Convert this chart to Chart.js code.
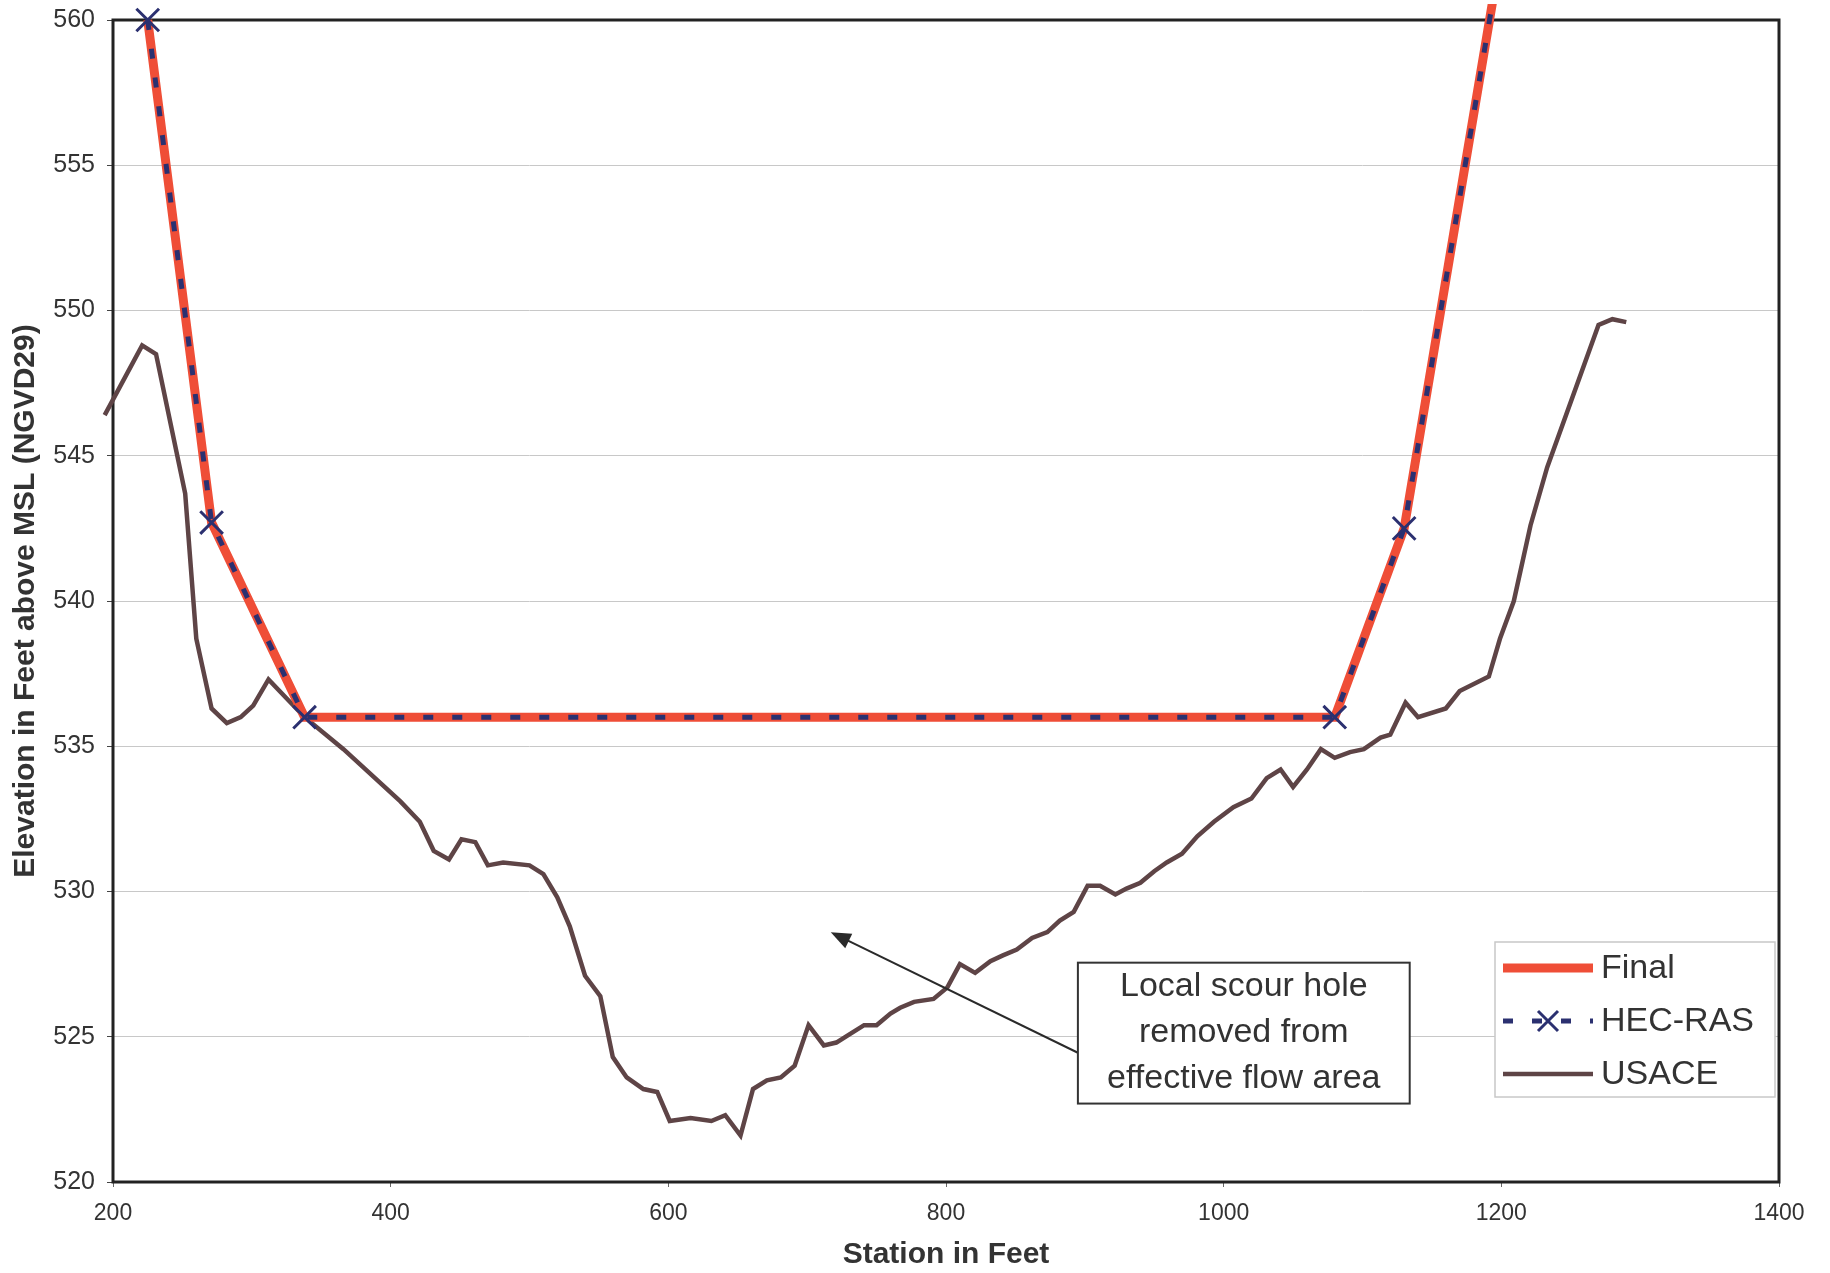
<!DOCTYPE html>
<html>
<head>
<meta charset="utf-8">
<title>Station vs Elevation</title>
<script src="https://cdn.jsdelivr.net/npm/chart.js@4.4.1/dist/chart.umd.min.js"></script>
<style>
  html, body { margin: 0; padding: 0; background: #fff; }
  canvas { display: block; }
</style>
</head>
<body>
<canvas id="chart" width="1830" height="1273"></canvas>
<script>
// station (ft) / elevation (ft, NGVD29)
const finalStation = [225, 271, 338, 1080, 1130, 1195];
const finalElev = [560, 542.7, 536.0, 536.0, 542.5, 561.0];

const hecStation = [225, 271, 338, 1080, 1130, 1195];
const hecElev = [560, 542.7, 536.0, 536.0, 542.5, 561.0];

const usaceStation = [194, 221, 231, 252, 260, 271, 282, 292, 301, 312, 338, 366, 407, 421, 431, 442, 451, 461, 470, 481,
  500, 510, 520, 529, 540, 551, 560, 570, 582, 592, 601, 616, 631, 641, 652, 661, 671, 681, 691, 701,
  712, 721, 731, 741, 750, 760, 767, 777, 791, 801, 810, 821, 832, 841, 851, 862, 873, 882, 892, 902,
  911, 922, 930, 940, 950, 959, 970, 981, 993, 1007, 1020, 1031, 1041, 1050, 1060, 1070, 1080, 1091, 1101, 1113,
  1120, 1131, 1140, 1160, 1170, 1191, 1199, 1209, 1221, 1233, 1270, 1280, 1290];
const usaceElev = [546.4, 548.8, 548.5, 543.7, 538.7, 536.3, 535.8, 536.0, 536.4, 537.3, 536.0, 534.9, 533.1, 532.4, 531.4, 531.1, 531.8, 531.7, 530.9, 531.0,
  530.9, 530.6, 529.8, 528.8, 527.1, 526.4, 524.3, 523.6, 523.2, 523.1, 522.1, 522.2, 522.1, 522.3, 521.6, 523.2, 523.5, 523.6, 524.0, 525.4,
  524.7, 524.8, 525.1, 525.4, 525.4, 525.8, 526.0, 526.2, 526.3, 526.7, 527.5, 527.2, 527.6, 527.8, 528.0, 528.4, 528.6, 529.0, 529.3, 530.2,
  530.2, 529.9, 530.1, 530.3, 530.7, 531.0, 531.3, 531.9, 532.4, 532.9, 533.2, 533.9, 534.2, 533.6, 534.2, 534.9, 534.6, 534.8, 534.9, 535.3,
  535.4, 536.5, 536.0, 536.3, 536.9, 537.4, 538.7, 540.0, 542.6, 544.6, 549.5, 549.7, 549.6];

const xMin = 200, xMax = 1400, xStep = 200;
const yMin = 520, yMax = 560, yStep = 5;

// callout, in data units
const noteLines = ['Local scour hole', 'removed from', 'effective flow area'];
const noteBox = {x1: 895, x2: 1134, y1: 527.55, y2: 522.7};
const noteArrow = {fromX: 895, fromY: 524.45, toX: 717, toY: 528.6};

const FONT = '"Liberation Sans", Arial, sans-serif';

const pts = (xs, ys) => xs.map((x, i) => ({x: x, y: ys[i]}));

function drawX(ctx, x, y, r) {
  ctx.beginPath();
  ctx.moveTo(x - r, y - r); ctx.lineTo(x + r, y + r);
  ctx.moveTo(x - r, y + r); ctx.lineTo(x + r, y - r);
  ctx.stroke();
}

const framePlugin = {
  id: 'frame',
  beforeDatasetsDraw(chart) {
    const {ctx, chartArea: a} = chart;
    ctx.save();
    ctx.strokeStyle = '#222';
    ctx.lineWidth = 3;
    ctx.strokeRect(a.left, a.top, a.right - a.left, a.bottom - a.top);
    ctx.restore();
  }
};

const notePlugin = {
  id: 'note',
  afterDatasetsDraw(chart) {
    const {ctx} = chart;
    const xs = chart.scales.x, ys = chart.scales.y;
    ctx.save();
    // arrow
    const fx = xs.getPixelForValue(noteArrow.fromX), fy = ys.getPixelForValue(noteArrow.fromY);
    const tx = xs.getPixelForValue(noteArrow.toX), ty = ys.getPixelForValue(noteArrow.toY);
    const ang = Math.atan2(ty - fy, tx - fx);
    ctx.strokeStyle = '#2a2a2a';
    ctx.fillStyle = '#2a2a2a';
    ctx.lineWidth = 2;
    ctx.beginPath();
    ctx.moveTo(fx, fy);
    ctx.lineTo(tx - 14 * Math.cos(ang), ty - 14 * Math.sin(ang));
    ctx.stroke();
    ctx.beginPath();
    ctx.moveTo(tx, ty);
    ctx.lineTo(tx - 20 * Math.cos(ang) + 8 * Math.sin(ang), ty - 20 * Math.sin(ang) - 8 * Math.cos(ang));
    ctx.lineTo(tx - 20 * Math.cos(ang) - 8 * Math.sin(ang), ty - 20 * Math.sin(ang) + 8 * Math.cos(ang));
    ctx.closePath();
    ctx.fill();
    // box
    const bx1 = xs.getPixelForValue(noteBox.x1), bx2 = xs.getPixelForValue(noteBox.x2);
    const by1 = ys.getPixelForValue(noteBox.y1), by2 = ys.getPixelForValue(noteBox.y2);
    ctx.fillStyle = '#fff';
    ctx.fillRect(bx1, by1, bx2 - bx1, by2 - by1);
    ctx.strokeStyle = '#333';
    ctx.lineWidth = 2;
    ctx.strokeRect(bx1, by1, bx2 - bx1, by2 - by1);
    ctx.fillStyle = '#333';
    ctx.font = '34px ' + FONT;
    ctx.textAlign = 'center';
    ctx.textBaseline = 'middle';
    const cx = (bx1 + bx2) / 2;
    const lh = 46;
    const cy = (by1 + by2) / 2;
    noteLines.forEach((t, i) => ctx.fillText(t, cx, cy + (i - 1) * lh));
    ctx.restore();
  }
};

const legendPlugin = {
  id: 'boxLegend',
  afterDatasetsDraw(chart) {
    const {ctx, chartArea: a} = chart;
    const w = 280, h = 155;
    const left = a.right - 4 - w, top = a.bottom - 240;
    ctx.save();
    ctx.fillStyle = '#fff';
    ctx.fillRect(left, top, w, h);
    ctx.strokeStyle = '#c8c8c8';
    ctx.lineWidth = 1.5;
    ctx.strokeRect(left, top, w, h);
    ctx.font = '34px ' + FONT;
    ctx.textBaseline = 'middle';
    ctx.textAlign = 'left';
    chart.data.datasets.forEach((ds, i) => {
      const y = top + 26 + i * 53;
      const x1 = left + 8, x2 = left + 98;
      ctx.strokeStyle = ds.borderColor;
      ctx.lineWidth = ds.borderWidth;
      ctx.setLineDash(ds.borderDash || []);
      ctx.lineCap = 'butt';
      ctx.beginPath();
      ctx.moveTo(x1, y); ctx.lineTo(x2, y);
      ctx.stroke();
      ctx.setLineDash([]);
      if (ds.pointStyle === 'crossRot') {
        ctx.lineWidth = ds.pointBorderWidth;
        ctx.strokeStyle = ds.pointBorderColor;
        drawX(ctx, (x1 + x2) / 2, y, 10);
      }
      ctx.fillStyle = '#333';
      ctx.fillText(ds.label, left + 106, y + 1);
    });
    ctx.restore();
  }
};

new Chart(document.getElementById('chart'), {
  type: 'line',
  data: {
    datasets: [
      {
        label: 'Final',
        data: pts(finalStation, finalElev),
        borderColor: '#ef4e37',
        borderWidth: 9,
        pointRadius: 0,
        tension: 0,
        order: 2,
        clip: {left: 15, top: 16, right: 0, bottom: 0}
      },
      {
        label: 'HEC-RAS',
        data: pts(hecStation, hecElev),
        borderColor: '#2b3070',
        borderWidth: 5,
        borderDash: [10, 19],
        pointStyle: 'crossRot',
        pointRadius: 16,
        pointBorderWidth: 3,
        pointBorderColor: '#2b3070',
        pointBackgroundColor: '#2b3070',
        tension: 0,
        order: 1,
        clip: {left: 15, top: 16, right: 0, bottom: 0}
      },
      {
        label: 'USACE',
        data: pts(usaceStation, usaceElev),
        borderColor: '#5e4446',
        borderWidth: 4.5,
        pointRadius: 0,
        tension: 0,
        order: 3,
        clip: {left: 12, top: 0, right: 0, bottom: 0}
      }
    ]
  },
  options: {
    responsive: false,
    animation: false,
    devicePixelRatio: 1,
    layout: {padding: {left: 0, top: 20, right: 51, bottom: 0}},
    plugins: {
      legend: {display: false},
      tooltip: {enabled: false}
    },
    scales: {
      x: {
        type: 'linear',
        min: xMin, max: xMax,
        afterFit: s => { s.height = 91; },
        ticks: {stepSize: xStep, padding: 13, color: '#333', font: {family: FONT, size: 23},
          callback: v => String(v)},
        grid: {drawOnChartArea: false, drawTicks: true, tickLength: 5, tickColor: '#666'},
        border: {display: false},
        title: {display: true, text: 'Station in Feet', color: '#333', padding: {top: 0, bottom: 0},
          font: {family: FONT, size: 30, weight: 'bold'}}
      },
      y: {
        type: 'linear',
        min: yMin, max: yMax,
        afterFit: s => { s.width = 113; s.paddingTop = 0; s.paddingBottom = 0; },
        ticks: {stepSize: yStep, padding: 12, color: '#333', font: {family: FONT, size: 25},
          callback: v => String(v)},
        grid: {color: '#c8c8c8', lineWidth: 1, drawTicks: true, tickLength: 6, tickColor: '#444'},
        border: {display: false},
        title: {display: true, text: 'Elevation in Feet above MSL (NGVD29)', color: '#333', padding: {top: 8, bottom: 0},
          font: {family: FONT, size: 30, weight: 'bold'}}
      }
    }
  },
  plugins: [framePlugin, notePlugin, legendPlugin]
});
</script>
</body>
</html>
